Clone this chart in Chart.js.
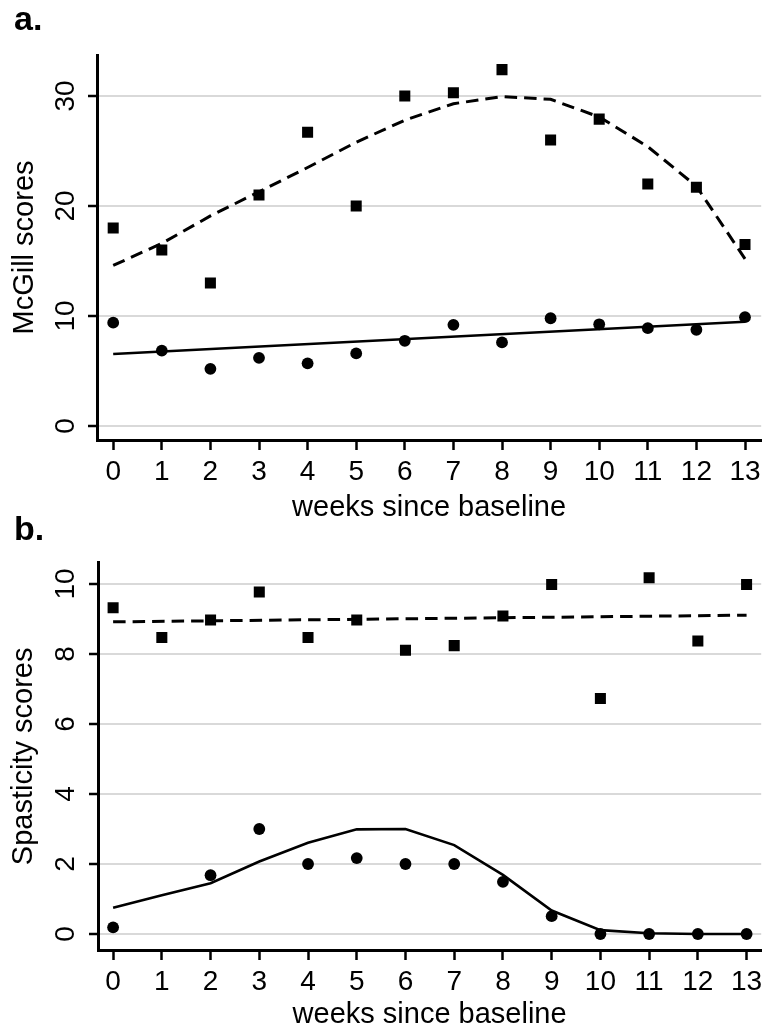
<!DOCTYPE html>
<html>
<head>
<meta charset="utf-8">
<script src="https://cdn.jsdelivr.net/npm/chart.js@4.4.1/dist/chart.umd.min.js"></script>
<style>
  html, body { margin: 0; padding: 0; background: #fff; }
  body { width: 769px; height: 1032px; position: relative; overflow: hidden; }
  .panel { position: absolute; left: 0; width: 769px; }
  #panelA { top: 0; height: 525px; }
  #panelB { top: 505px; height: 527px; }
</style>
</head>
<body>
<div class="panel" id="panelA"><canvas id="mcgillChart"></canvas></div>
<div class="panel" id="panelB"><canvas id="spasticityChart"></canvas></div>
<script>
// weeks on the x axis (both panels)
var weeks = [0, 1, 2, 3, 4, 5, 6, 7, 8, 9, 10, 11, 12, 13];

// a. McGill scores
var mcgillSquares = [18, 16, 13, 21, 26.7, 20, 30, 30.3, 32.4, 26, 27.9, 22, 21.7, 16.5];
var mcgillCircles = [9.4, 6.85, 5.2, 6.2, 5.7, 6.6, 7.75, 9.2, 7.6, 9.8, 9.25, 8.9, 8.75, 9.9];
var mcgillDashFit = [14.6, 16.6, 19.1, 21.3, 23.5, 25.8, 27.8, 29.3, 29.95, 29.7, 28.1, 25.4, 21.8, 15.2];
var mcgillSolidWeeks = [0, 13];
var mcgillSolidFit = [6.55, 9.48];
var mcgillTicks = [0, 10, 20, 30];
var mcgillTickLabels = ['0', '10', '20', '30'];

// b. Spasticity scores
var spastSquares = [9.32, 8.47, 8.97, 9.77, 8.47, 8.97, 8.11, 8.24, 9.09, 9.99, 6.73, 10.18, 8.37, 9.99];
var spastCircles = [0.19, null, 1.68, 3.0, 2.0, 2.17, 2.0, 2.0, 1.49, 0.51, 0.0, 0.0, 0.0, 0.0];
var spastSolidFit = [0.75, 1.11, 1.45, 2.07, 2.61, 2.99, 3.0, 2.54, 1.69, 0.67, 0.11, 0.02, 0.0, 0.0];
var spastDashWeeks = [0, 13];
var spastDashFit = [8.92, 9.11];
var spastTicks = [0, 2, 4, 6, 8, 10];
var spastTickLabels = ['0', '2', '4', '6', '8', '10'];

var FONT = '"Liberation Sans", Arial, Helvetica, sans-serif';
Chart.defaults.font.family = FONT;
Chart.defaults.color = '#000';

function toPoints(xs, ys) {
    return xs.map(function (x, i) { return { x: x, y: ys[i] }; })
        .filter(function (p) { return p.y !== null; });
}

// y tick labels are drawn rotated (read bottom to top), plus the panel letter
var panelDecor = {
    id: 'panelDecor',
    afterDraw: function (chart, args, opts) {
        var ctx = chart.ctx;
        var ys = chart.scales.y;
        ctx.save();
        ctx.fillStyle = '#000';
        ctx.font = '28px ' + FONT;
        ctx.textAlign = 'center';
        ctx.textBaseline = 'middle';
        ys.ticks.forEach(function (t, i) {
            ctx.save();
            ctx.translate(opts.tickX, ys.getPixelForValue(t.value));
            ctx.rotate(-Math.PI / 2);
            ctx.fillText(opts.tickLabels[i], 0, 0);
            ctx.restore();
        });
        ctx.font = 'bold 34px ' + FONT;
        ctx.textAlign = 'left';
        ctx.textBaseline = 'alphabetic';
        ctx.fillText(opts.letter, opts.letterX, opts.letterY);
        ctx.restore();
    }
};

function makeChart(canvasId, cfg) {
    var ctx = document.getElementById(canvasId).getContext('2d');
    return new Chart(ctx, {
        type: 'scatter',
        data: {
            datasets: [{
                label: 'squares',
                data: cfg.squares,
                pointStyle: 'rect',
                pointRadius: 7.8,
                backgroundColor: '#000',
                borderWidth: 0,
                showLine: false
            }, {
                label: 'circles',
                data: cfg.circles,
                pointStyle: 'circle',
                pointRadius: 5.9,
                backgroundColor: '#000',
                borderWidth: 0,
                showLine: false
            }, {
                label: 'dashed fit',
                data: cfg.dashed,
                showLine: true,
                pointRadius: 0,
                borderColor: '#000',
                borderWidth: 3,
                borderDash: [12.5, 7],
                tension: 0
            }, {
                label: 'solid fit',
                data: cfg.solid,
                showLine: true,
                pointRadius: 0,
                borderColor: '#000',
                borderWidth: 2.6,
                tension: 0
            }]
        },
        options: {
            responsive: true,
            maintainAspectRatio: false,
            animation: false,
            devicePixelRatio: 1,
            layout: { padding: cfg.padding },
            plugins: {
                legend: { display: false },
                tooltip: { enabled: false },
                panelDecor: {
                    tickX: 66.7,
                    tickLabels: cfg.yTickLabels,
                    letter: cfg.letter,
                    letterX: 14,
                    letterY: cfg.letterY
                }
            },
            scales: {
                x: {
                    type: 'linear',
                    min: cfg.xMin,
                    max: cfg.xMax,
                    afterBuildTicks: function (s) { s.ticks = weeks.map(function (v) { return { value: v }; }); },
                    afterFit: function (s) { s.height = cfg.xHeight; },
                    ticks: { font: { size: 28 }, color: '#000', padding: 5.5, maxRotation: 0, autoSkip: false },
                    grid: { drawOnChartArea: false, drawTicks: true, tickLength: 10, tickColor: '#000', tickWidth: 2.5 },
                    border: { display: true, color: '#000', width: 3 },
                    title: { display: true, text: 'weeks since baseline', font: { size: 29 }, color: '#000', padding: 0 }
                },
                y: {
                    min: cfg.yMin,
                    max: cfg.yMax,
                    afterBuildTicks: function (s) { s.ticks = cfg.yTicks.map(function (v) { return { value: v }; }); },
                    afterFit: function (s) { s.width = cfg.yWidth; },
                    ticks: { display: false },
                    grid: { color: '#d9d9d9', lineWidth: 2, tickLength: 9, tickColor: '#000', tickWidth: 2.5 },
                    border: { display: true, color: '#000', width: 3 },
                    title: { display: true, text: cfg.yTitle, font: { size: 29 }, color: '#000', padding: { top: cfg.yTitlePad, bottom: 0 } }
                }
            }
        },
        plugins: [panelDecor]
    });
}

makeChart('mcgillChart', {
    squares: toPoints(weeks, mcgillSquares),
    circles: toPoints(weeks, mcgillCircles),
    dashed: toPoints(weeks, mcgillDashFit),
    solid: toPoints(mcgillSolidWeeks, mcgillSolidFit),
    yTicks: mcgillTicks,
    yTickLabels: mcgillTickLabels,
    yTitle: 'McGill scores',
    yTitlePad: 8,
    letter: 'a.',
    letterY: 30,
    padding: { top: 55, right: 2, left: 0, bottom: 0 },
    xMin: -1 / 3, xMax: 13 + 1 / 3,
    yMin: -1.27, yMax: 33.73,
    xHeight: 85, yWidth: 97
});

makeChart('spasticityChart', {
    squares: toPoints(weeks, spastSquares),
    circles: toPoints(weeks, spastCircles),
    dashed: toPoints(spastDashWeeks, spastDashFit),
    solid: toPoints(weeks, spastSolidFit),
    yTicks: spastTicks,
    yTickLabels: spastTickLabels,
    yTitle: 'Spasticity scores',
    yTitlePad: 6.5,
    letter: 'b.',
    letterY: 35,
    padding: { top: 57.7, right: 0, left: 0, bottom: 0 },
    xMin: -0.31, xMax: 13.3,
    yMin: -0.457, yMax: 10.61,
    xHeight: 82, yWidth: 98
});
</script>
</body>
</html>
